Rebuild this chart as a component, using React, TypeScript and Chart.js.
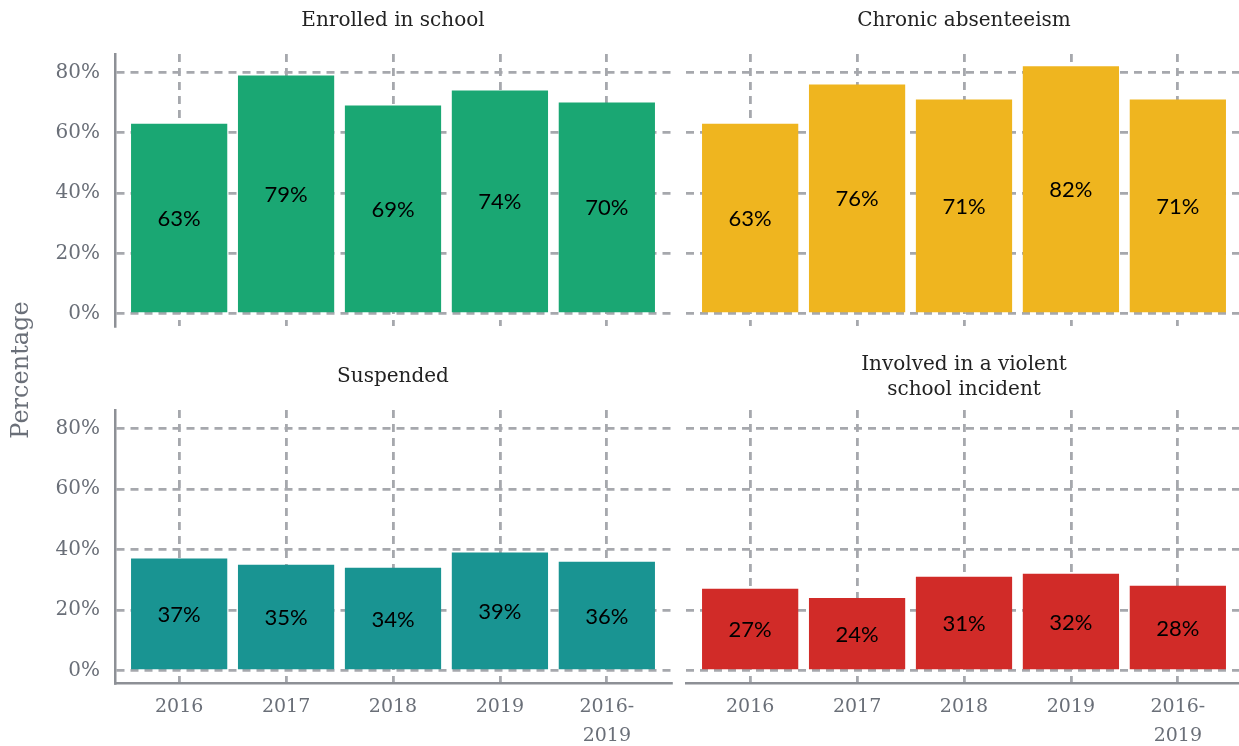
import React, { useEffect, useRef } from "react";
import { Chart, registerables } from "chart.js";

Chart.register(...registerables);

// ---- data ----
const categories: (string | string[])[] = ["2016", "2017", "2018", "2019", ["2016-", "2019"]];
const enrolledValues = [63, 79, 69, 74, 70];
const absenteeismValues = [63, 76, 71, 82, 71];
const suspendedValues = [37, 35, 34, 39, 36];
const violentValues = [27, 24, 31, 32, 28];
const yTickValues = [0, 20, 40, 60, 80];
const enrolledTitle = ["Enrolled in school"];
const absenteeismTitle = ["Chronic absenteeism"];
const suspendedTitle = ["Suspended"];
const violentTitle = ["Involved in a violent", "school incident"];
const yAxisTitle = "Percentage";

// ---- styles ----
const GRID = "#a6a8ad";
const AXIS = "#8d9096";
const TICK = "#6a6f78";
const TITLE = "#222222";
const SERIF = '"DejaVu Serif", serif';
const SANS = 'Lato, "Open Sans", sans-serif';

type Spec = {
  values: number[];
  color: string;
  title: string[];
  showY: boolean;
  showX: boolean;
  pad: { left: number; right: number; top: number; bottom: number };
  yLabel?: boolean;
};

const CANVAS_W = 1250;
const CANVAS_H = 746;

function makeChart(canvas: HTMLCanvasElement, spec: Spec) {
  const { values, color, title, showY, showX, pad, yLabel } = spec;

  const labelPlugin = {
    id: "barLabels",
    afterDatasetsDraw(chart: any) {
      const ctx = chart.ctx;
      const meta = chart.getDatasetMeta(0);
      ctx.save();
      ctx.font = `22px ${SANS}`;
      ctx.fillStyle = "#000000";
      ctx.textAlign = "center";
      ctx.textBaseline = "middle";
      meta.data.forEach((el: any, i: number) => {
        const y = (el.y + el.base) / 2 + 1;
        ctx.fillText(`${values[i]}%`, el.x, y);
      });
      ctx.restore();
    },
  };

  const titlePlugin = {
    id: "panelTitle",
    afterDraw(chart: any) {
      const ctx = chart.ctx;
      const area = chart.chartArea;
      ctx.save();
      ctx.font = `20px ${SERIF}`;
      ctx.fillStyle = TITLE;
      ctx.textAlign = "center";
      ctx.textBaseline = "middle";
      const cx = (area.left + area.right) / 2;
      const n = title.length;
      title.forEach((line, i) => {
        ctx.fillText(line, cx, area.top - 33 + (i - (n - 1) / 2) * 25);
      });
      if (yLabel) {
        ctx.translate(22, 370);
        ctx.rotate(-Math.PI / 2);
        ctx.font = `24px ${SERIF}`;
        ctx.fillStyle = TICK;
        ctx.fillText(yAxisTitle, 0, 0);
      }
      ctx.restore();
    },
  };

  return new Chart(canvas, {
    type: "bar",
    data: {
      datasets: [
        {
          data: values.map((v, i) => ({ x: i + 1, y: v })) as any,
          backgroundColor: color,
          borderWidth: 0,
          barPercentage: 0.9,
          categoryPercentage: 1,
        },
      ],
    },
    options: {
      animation: false,
      responsive: false,
      devicePixelRatio: 1,
      layout: { padding: pad },
      plugins: { legend: { display: false }, tooltip: { enabled: false } },
      scales: {
        x: {
          type: "linear",
          min: 0.4,
          max: 5.6,
          offset: false,
          afterBuildTicks: (s: any) => {
            s.ticks = categories.map((_, i) => ({ value: i + 1 }));
          },
          afterFit: (s: any) => {
            s.height = showX ? 63 : 0;
          },
          grid: { offset: false, color: GRID, lineWidth: 2.8, drawTicks: false },
          border: { display: showX, color: AXIS, width: 2.5, dash: [8, 6] },
          ticks: {
            display: showX,
            autoSkip: false,
            maxRotation: 0,
            padding: 9,
            color: TICK,
            font: { family: SERIF, size: 19, lineHeight: 1.55 },
            callback: (v: any) => categories[Math.round(v) - 1] as any,
          },
        },
        y: {
          type: "linear",
          min: -4.1,
          max: 86.1,
          afterBuildTicks: (s: any) => {
            s.ticks = yTickValues.map((v) => ({ value: v }));
          },
          afterFit: (s: any) => {
            s.width = showY ? 115 : 0;
          },
          grid: { color: GRID, lineWidth: 2.8, drawTicks: false },
          border: { display: showY, color: AXIS, width: 2.5, dash: [8, 6] },
          ticks: {
            display: showY,
            padding: 15,
            color: TICK,
            font: { family: SERIF, size: 20 },
            callback: (v: any) => `${v}%`,
          },
        },
      },
    } as any,
    plugins: [labelPlugin, titlePlugin],
  });
}

const specs: Spec[] = [
  {
    values: enrolledValues,
    color: "#1aa773",
    title: enrolledTitle,
    showY: true,
    showX: false,
    pad: { left: 0, right: CANVAS_W - 671, top: 54, bottom: CANVAS_H - 326 },
    yLabel: true,
  },
  {
    values: absenteeismValues,
    color: "#efb51f",
    title: absenteeismTitle,
    showY: false,
    showX: false,
    pad: { left: 686, right: CANVAS_W - 1242, top: 54, bottom: CANVAS_H - 326 },
  },
  {
    values: suspendedValues,
    color: "#199492",
    title: suspendedTitle,
    showY: true,
    showX: true,
    pad: { left: 0, right: CANVAS_W - 671, top: 410, bottom: 0 },
  },
  {
    values: violentValues,
    color: "#d12b28",
    title: violentTitle,
    showY: false,
    showX: true,
    pad: { left: 686, right: CANVAS_W - 1242, top: 410, bottom: 0 },
  },
];

function Panel({ spec }: { spec: Spec }) {
  const ref = useRef<HTMLCanvasElement | null>(null);
  useEffect(() => {
    if (!ref.current) return;
    const chart = makeChart(ref.current, spec);
    return () => chart.destroy();
  }, [spec]);
  return (
    <canvas
      ref={ref}
      width={CANVAS_W}
      height={CANVAS_H}
      style={{ position: "absolute", left: 0, top: 0, width: CANVAS_W, height: CANVAS_H }}
    />
  );
}

export default function App() {
  return (
    <div
      style={{
        position: "absolute",
        left: 0,
        top: 0,
        width: 1239,
        height: 746,
        overflow: "hidden",
        background: "#ffffff",
      }}
    >
      {specs.map((s, i) => (
        <Panel key={i} spec={s} />
      ))}
    </div>
  );
}
